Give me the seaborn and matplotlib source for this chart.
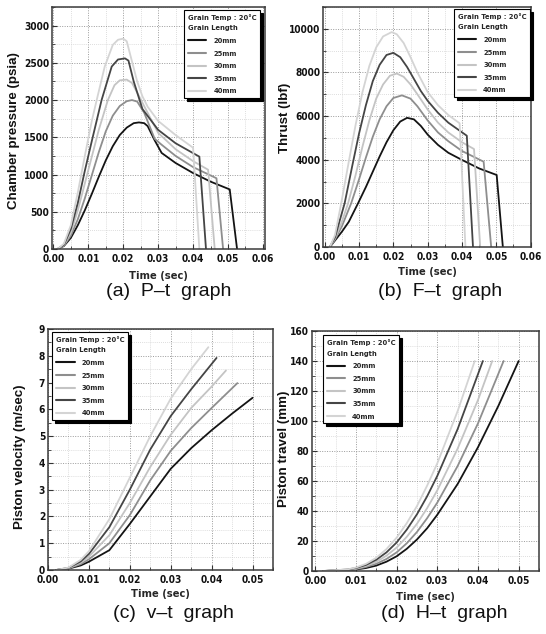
import matplotlib
matplotlib.use("Agg")
import matplotlib.pyplot as plt
import numpy as np
import pandas as pd
import seaborn as sns
from matplotlib.lines import Line2D
from matplotlib.ticker import MultipleLocator, FormatStrFormatter
from matplotlib.font_manager import FontProperties, fontManager

# ---------------- data ----------------
lengths = ["20mm", "25mm", "30mm", "35mm", "40mm"]
line_colors = ["#141414", "#8e8e8e", "#c4c4c4", "#454545", "#d4d4d4"]

# (a) chamber pressure (psia)
pa_t20 = [0.0012, 0.003, 0.005, 0.007, 0.009, 0.011, 0.013, 0.015, 0.017, 0.019, 0.021, 0.023, 0.0245, 0.026, 0.027, 0.029, 0.031, 0.035, 0.040, 0.045, 0.0505, 0.0526]
pa_p20 = [0, 40, 150, 320, 520, 740, 970, 1190, 1380, 1530, 1630, 1690, 1700, 1690, 1650, 1460, 1290, 1155, 1020, 905, 800, 0]
pa_t25 = [0.0012, 0.003, 0.005, 0.007, 0.009, 0.011, 0.013, 0.015, 0.017, 0.019, 0.021, 0.0225, 0.024, 0.026, 0.029, 0.031, 0.035, 0.040, 0.0467, 0.0486]
pa_p25 = [0, 45, 180, 400, 680, 990, 1300, 1580, 1790, 1920, 1985, 2000, 1980, 1830, 1480, 1400, 1250, 1100, 950, 0]
pa_t30 = [0.0012, 0.003, 0.005, 0.007, 0.009, 0.011, 0.013, 0.0156, 0.0175, 0.019, 0.021, 0.0225, 0.024, 0.0262, 0.030, 0.035, 0.040, 0.0443, 0.0462]
pa_p30 = [0, 50, 220, 520, 880, 1240, 1600, 2000, 2200, 2265, 2275, 2230, 2100, 1900, 1560, 1340, 1180, 1065, 0]
pa_t35 = [0.0012, 0.003, 0.005, 0.007, 0.009, 0.011, 0.0138, 0.0167, 0.0185, 0.0205, 0.0215, 0.023, 0.0255, 0.030, 0.035, 0.0418, 0.0437]
pa_p35 = [0, 55, 270, 620, 1050, 1450, 2000, 2450, 2545, 2560, 2530, 2250, 1880, 1600, 1420, 1240, 0]
pa_t40 = [0.0012, 0.003, 0.005, 0.007, 0.009, 0.011, 0.0124, 0.0147, 0.017, 0.0185, 0.020, 0.021, 0.0225, 0.024, 0.0255, 0.027, 0.030, 0.035, 0.040, 0.0418]
pa_p40 = [0, 70, 320, 760, 1250, 1720, 2000, 2450, 2740, 2810, 2825, 2790, 2520, 2250, 2050, 1910, 1720, 1530, 1360, 0]

# (b) thrust (lbf)
pb_t20 = [0.0015, 0.003, 0.005, 0.007, 0.0097, 0.012, 0.014, 0.016, 0.018, 0.020, 0.022, 0.024, 0.026, 0.028, 0.030, 0.033, 0.036, 0.040, 0.045, 0.0501, 0.0519]
pb_f20 = [0, 300, 700, 1150, 2000, 2750, 3450, 4150, 4800, 5350, 5750, 5920, 5850, 5550, 5150, 4680, 4320, 3990, 3600, 3300, 0]
pb_t25 = [0.0015, 0.003, 0.005, 0.0077, 0.010, 0.012, 0.014, 0.016, 0.018, 0.020, 0.0225, 0.025, 0.027, 0.030, 0.033, 0.036, 0.040, 0.0463, 0.0485]
pb_f25 = [0, 350, 950, 2000, 3100, 4100, 5050, 5850, 6450, 6830, 6950, 6800, 6450, 5800, 5250, 4850, 4400, 3910, 0]
pb_t30 = [0.0015, 0.003, 0.005, 0.0068, 0.009, 0.011, 0.013, 0.015, 0.017, 0.019, 0.021, 0.023, 0.025, 0.027, 0.030, 0.033, 0.036, 0.040, 0.0435, 0.0453]
pb_f30 = [0, 400, 1150, 2000, 3300, 4600, 5800, 6800, 7450, 7850, 7950, 7800, 7450, 7000, 6300, 5700, 5250, 4800, 4490, 0]
pb_t35 = [0.0015, 0.003, 0.0058, 0.008, 0.010, 0.012, 0.014, 0.016, 0.018, 0.020, 0.022, 0.024, 0.026, 0.028, 0.030, 0.033, 0.036, 0.0414, 0.0432]
pb_f35 = [0, 450, 2000, 3700, 5200, 6500, 7600, 8350, 8800, 8900, 8700, 8250, 7700, 7150, 6700, 6150, 5700, 5100, 0]
pb_t40 = [0.0015, 0.003, 0.0048, 0.007, 0.009, 0.011, 0.013, 0.015, 0.017, 0.0195, 0.021, 0.023, 0.025, 0.027, 0.030, 0.033, 0.036, 0.0393, 0.041]
pb_f40 = [0, 550, 2000, 3900, 5600, 7100, 8300, 9150, 9650, 9850, 9750, 9350, 8700, 8000, 7100, 6500, 6050, 5670, 0]

# (c) piston velocity (m/sec)
pc_t20 = [0.002, 0.005, 0.008, 0.010, 0.015, 0.020, 0.025, 0.030, 0.035, 0.040, 0.045, 0.050]
pc_v20 = [0, 0.05, 0.17, 0.31, 0.74, 1.72, 2.75, 3.78, 4.55, 5.22, 5.84, 6.43]
pc_t25 = [0.002, 0.005, 0.008, 0.010, 0.015, 0.020, 0.025, 0.030, 0.035, 0.040, 0.0463]
pc_v25 = [0, 0.06, 0.22, 0.40, 1.00, 2.05, 3.35, 4.45, 5.30, 6.05, 6.98]
pc_t30 = [0.002, 0.005, 0.008, 0.010, 0.015, 0.020, 0.025, 0.030, 0.035, 0.040, 0.0435]
pc_v30 = [0, 0.07, 0.27, 0.50, 1.30, 2.50, 3.85, 5.05, 6.05, 6.85, 7.45]
pc_t35 = [0.002, 0.005, 0.008, 0.010, 0.015, 0.020, 0.025, 0.030, 0.035, 0.0412]
pc_v35 = [0, 0.08, 0.32, 0.60, 1.60, 3.00, 4.50, 5.75, 6.75, 7.92]
pc_t40 = [0.002, 0.005, 0.008, 0.010, 0.015, 0.020, 0.025, 0.030, 0.035, 0.0392]
pc_v40 = [0, 0.09, 0.38, 0.70, 1.90, 3.45, 5.00, 6.40, 7.50, 8.32]

# (d) piston travel (mm)
pd_t20 = [0.002, 0.008, 0.010, 0.0125, 0.015, 0.0175, 0.020, 0.0225, 0.025, 0.0275, 0.030, 0.035, 0.040, 0.045, 0.050]
pd_h20 = [0, 0.5, 1.0, 2.0, 3.6, 6.2, 9.8, 14.8, 21, 28.5, 37.5, 58, 82.5, 110, 140]
pd_t25 = [0.002, 0.008, 0.010, 0.0125, 0.015, 0.0175, 0.020, 0.0225, 0.025, 0.0275, 0.030, 0.035, 0.040, 0.0463]
pd_h25 = [0, 0.6, 1.3, 2.7, 4.8, 8.0, 12.4, 18.5, 26, 35.2, 45.6, 70, 98.4, 140]
pd_t30 = [0.002, 0.008, 0.010, 0.0125, 0.015, 0.0175, 0.020, 0.0225, 0.025, 0.0275, 0.030, 0.035, 0.040, 0.0435]
pd_h30 = [0, 0.8, 1.6, 3.4, 6.1, 10.2, 15.6, 22.8, 31.5, 41.9, 53.8, 81.6, 114, 140]
pd_t35 = [0.002, 0.008, 0.010, 0.0125, 0.015, 0.0175, 0.020, 0.0225, 0.025, 0.0275, 0.030, 0.035, 0.0412]
pd_h35 = [0, 1.0, 2.0, 4.1, 7.5, 12.4, 19, 27.6, 37.8, 49.8, 63.4, 94.6, 140]
pd_t40 = [0.002, 0.008, 0.010, 0.0125, 0.015, 0.0175, 0.020, 0.0225, 0.025, 0.0275, 0.030, 0.035, 0.0392]
pd_h40 = [0, 1.1, 2.3, 4.8, 8.8, 14.6, 22.2, 31.9, 43.3, 56.9, 71.8, 106.6, 140]

captions = ["(a)  P\u2013t  graph", "(b)  F\u2013t  graph", "(c)  v\u2013t  graph", "(d)  H\u2013t  graph"]
ylabels = ["Chamber pressure (psia)", "Thrust (lbf)", "Piston velocity (m/sec)", "Piston travel (mm)"]
xlabel = "Time (sec)"
legend_title = "Grain Temp : 20\u00b0C\nGrain Length"

# ---------------- style ----------------
sns.set_theme(style="white")
plt.rcParams["font.family"] = ["Liberation Sans", "DejaVu Sans"]


def find_condensed_bold():
    cands = []
    for f in fontManager.ttflist:
        fn = f.fname.lower()
        nm = f.name.lower()
        if ("narrow" in fn or "condensed" in fn or "narrow" in nm or "condensed" in nm
                or str(f.stretch) in ("condensed", "semi-condensed", "extra-condensed")):
            w = f.weight if isinstance(f.weight, int) else (700 if "bold" in str(f.weight) else 400)
            if w >= 600 and "italic" not in fn and "oblique" not in fn and f.style == "normal":
                score = 0 if "liberation" in fn else (1 if "dejavu" in fn else 2)
                cands.append((score, f.fname))
    cands.sort()
    return cands[0][1] if cands else None


cond_file = find_condensed_bold()


def cfont(size):
    if cond_file:
        return FontProperties(fname=cond_file, size=size)
    return FontProperties(family="Liberation Sans", weight="bold", size=size * 0.9)


W, H = 546, 634
fig = plt.figure(figsize=(W / 100, H / 100), dpi=100)
fig.patch.set_facecolor("white")


def make_df(ts, vs):
    rows = []
    for lab, t, v in zip(lengths, ts, vs):
        for a, b in zip(t, v):
            rows.append((lab, a, b))
    return pd.DataFrame(rows, columns=["Grain Length", "t", "y"])


panels = [
    dict(box=(52, 7, 265, 249), ts=[pa_t20, pa_t25, pa_t30, pa_t35, pa_t40], vs=[pa_p20, pa_p25, pa_p30, pa_p35, pa_p40],
         xlim=(-0.0004, 0.0606), ylim=(0, 3250), ymaj=500, ymin=250,
         leg_loc="upper right", leg_anchor=(0.977, 0.988), ylab_x=14, ylab_y=131, xlab_y=276, cap=(169, 291)),
    dict(box=(323, 7, 531, 247), ts=[pb_t20, pb_t25, pb_t30, pb_t35, pb_t40], vs=[pb_f20, pb_f25, pb_f30, pb_f35, pb_f40],
         xlim=(-0.0005, 0.0601), ylim=(0, 11000), ymaj=2000, ymin=1000,
         leg_loc="upper right", leg_anchor=(0.995, 0.992), ylab_x=285, ylab_y=118, xlab_y=272, cap=(440, 291)),
    dict(box=(48, 329, 273, 570), ts=[pc_t20, pc_t25, pc_t30, pc_t35, pc_t40], vs=[pc_v20, pc_v25, pc_v30, pc_v35, pc_v40],
         xlim=(0, 0.055), ylim=(0, 9), ymaj=1, ymin=0.5,
         leg_loc="upper left", leg_anchor=(0.018, 0.988), ylab_x=20, ylab_y=457, xlab_y=594, cap=(173, 614)),
    dict(box=(312, 331, 539, 571), ts=[pd_t20, pd_t25, pd_t30, pd_t35, pd_t40], vs=[pd_h20, pd_h25, pd_h30, pd_h35, pd_h40],
         xlim=(-0.0008, 0.055), ylim=(0, 160), ymaj=20, ymin=10,
         leg_loc="upper left", leg_anchor=(0.048, 0.983), ylab_x=284, ylab_y=449, xlab_y=597, cap=(444, 613)),
]

tick_font = cfont(7.3)
leg_font = cfont(5.4)

for i, p in enumerate(panels):
    l, t, r, b = p["box"]
    ax = fig.add_axes([l / W, 1 - b / H, (r - l) / W, (b - t) / H])
    df = make_df(p["ts"], p["vs"])
    sns.lineplot(data=df, x="t", y="y", hue="Grain Length", hue_order=lengths,
                 palette=dict(zip(lengths, line_colors)), sort=False, estimator=None,
                 legend=False, linewidth=1.3, ax=ax)
    ax.set_xlim(*p["xlim"])
    ax.set_ylim(*p["ylim"])
    ax.set_xlabel("")
    ax.set_ylabel("")
    ax.xaxis.set_major_locator(MultipleLocator(0.01))
    ax.xaxis.set_minor_locator(MultipleLocator(0.005))
    ax.yaxis.set_major_locator(MultipleLocator(p["ymaj"]))
    ax.yaxis.set_minor_locator(MultipleLocator(p["ymin"]))
    ax.xaxis.set_major_formatter(FormatStrFormatter("%.2f"))
    ax.yaxis.set_major_formatter(FormatStrFormatter("%d"))
    ax.grid(True, which="major", linestyle=(0, (1, 1.5)), color="#9a9a9a", linewidth=0.7)
    ax.grid(True, which="minor", linestyle=(0, (1, 1.5)), color="#d2d2d2", linewidth=0.6)
    ax.set_axisbelow(True)
    ax.tick_params(which="major", direction="in", length=3.5, width=0.8, color="#333333")
    ax.tick_params(axis="x", which="major", pad=3.5)
    ax.tick_params(axis="y", which="major", pad=2)
    ax.tick_params(which="minor", direction="in", length=2, width=0.6, color="#333333")
    ax.tick_params(left=True, bottom=True, top=False, right=False)
    ax.tick_params(which="minor", left=True, bottom=True, top=False, right=False)
    for lab in ax.get_xticklabels() + ax.get_yticklabels():
        lab.set_fontproperties(tick_font)
        lab.set_color("#111111")
    for s in ax.spines.values():
        s.set_visible(True)
        s.set_color("#3a3a3a")
        s.set_linewidth(1.1)

    handles = [Line2D([], [], color=c, lw=1.5) for c in line_colors]
    leg = ax.legend(handles, lengths, loc=p["leg_loc"], bbox_to_anchor=p["leg_anchor"],
                    title=legend_title, title_fontproperties=leg_font, prop=leg_font,
                    alignment="left", frameon=True, fancybox=False,
                    shadow={"color": "black", "alpha": 1, "ox": 2, "oy": -2},
                    edgecolor="black", framealpha=1, borderpad=0.5, labelspacing=0.85,
                    handlelength=2.5, handletextpad=0.9, borderaxespad=0)
    leg.get_frame().set_linewidth(0.8)
    leg.get_title().set_linespacing(1.95)

    fig.text(p["ylab_x"] / W, 1 - p["ylab_y"] / H, ylabels[i], rotation=90, ha="center", va="center",
             fontsize=9.6, fontweight="bold", color="#111111")
    fig.text(((l + r) / 2) / W, 1 - p["xlab_y"] / H, xlabel, ha="center", va="center",
             fontproperties=cfont(8.0))
    fig.text(p["cap"][0] / W, 1 - p["cap"][1] / H, captions[i], ha="center", va="center",
             fontsize=14, color="#111111")

fig.savefig("out.png", dpi=100, facecolor="white")
